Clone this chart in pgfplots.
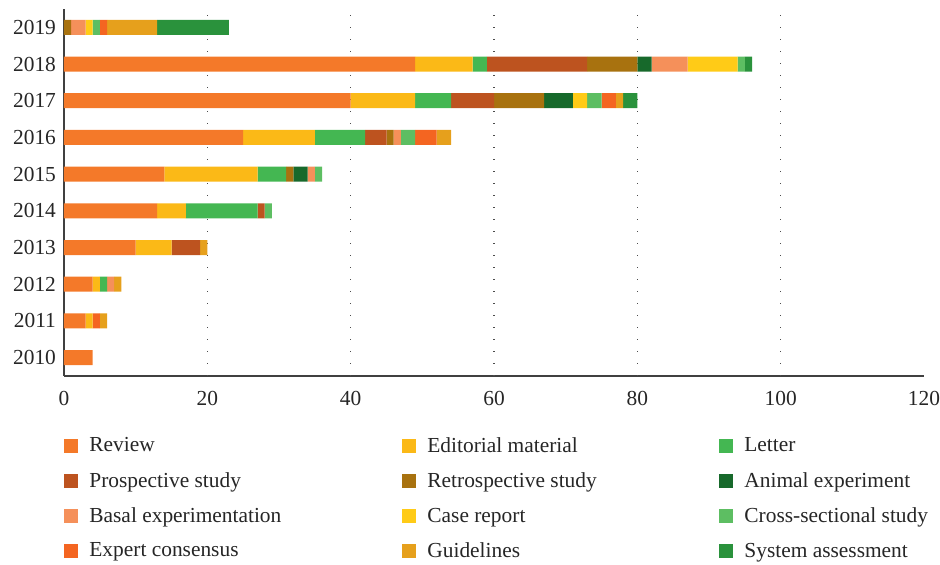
\documentclass[border=0pt]{standalone}
\usepackage{pgfplots}
\usepackage{pgfplotstable}
\pgfplotsset{compat=1.18}
\usepackage{fontspec}
\setmainfont{Liberation Serif}

\definecolor{cRev}{HTML}{F47929}
\definecolor{cEdi}{HTML}{FBB917}
\definecolor{cLet}{HTML}{44B752}
\definecolor{cPro}{HTML}{BD531F}
\definecolor{cRet}{HTML}{A8720F}
\definecolor{cAni}{HTML}{17692B}
\definecolor{cBas}{HTML}{F5905A}
\definecolor{cCas}{HTML}{FFCB17}
\definecolor{cCro}{HTML}{5DBE62}
\definecolor{cExp}{HTML}{F46521}
\definecolor{cGui}{HTML}{E6A01C}
\definecolor{cSys}{HTML}{2A923C}

% rows: 0 = 2010 ... 9 = 2019
\pgfplotstableread{
y  Rev Edi Let Pro Ret Ani Bas Cas Cro Exp Gui Sys
0  4   0   0   0   0   0   0   0   0   0   0   0
1  3   1   0   0   0   0   0   0   0   1   1   0
2  4   1   1   0   0   0   1   0   0   0   1   0
3  10  5   0   4   0   0   0   0   0   0   1   0
4  13  4   10  1   0   0   0   0   1   0   0   0
5  14  13  4   0   1   2   1   0   1   0   0   0
6  25  10  7   3   1   0   1   0   2   3   2   0
7  40  9   5   6   7   4   0   2   2   2   1   2
8  49  8   2   14  7   2   5   7   1   0   0   1
9  0   0   0   0   1   0   2   1   1   1   7   10
}\pubdata

\newcommand{\lbox}[2]{\makebox[#1][l]{#2}}

\begin{document}
\begin{tikzpicture}
\useasboundingbox (-32pt,-94.5pt) rectangle (438pt,188pt);
\begin{axis}[
    at={(0,0)}, anchor=south west,
    scale only axis,
    width=430pt, height=183.5pt,
    xbar stacked,
    bar width=7.5pt,
    xmin=0, xmax=120,
    ymin=-0.5, ymax=9.5,
    xtick={0,20,...,120},
    ytick={0,...,9},
    yticklabels={2010,2011,2012,2013,2014,2015,2016,2017,2018,2019},
    major tick length=0pt,
    extra x ticks={20,40,60,80,100},
    extra x tick labels={},
    extra x tick style={xmajorgrids=true},
    major grid style={draw=black!70, line width=0.6pt, dash pattern=on 0.6pt off 5.4pt},
    axis x line*=bottom, axis y line*=left,
    axis line style={-, draw=black!75, line width=0.6pt},
    tick label style={font=\fontsize{10.7}{12.5}\selectfont, text=black!85},
    /pgf/number format/assume math mode=true,
    xticklabel style={yshift=-4pt},
    yticklabel style={xshift=-0.5pt},
    area legend,
    legend image code/.code={\fill[#1] (0pt,-3.5pt) rectangle (7pt,3.5pt);},
    legend columns=3,
    legend cell align=left,
    legend style={at={(0,0)}, anchor=north west, yshift=-28.5pt, xshift=0pt,
        draw=none, inner sep=0pt, row sep=4.6pt,
        font=\fontsize{10.7}{12.5}\selectfont, text=black!85,
        /tikz/every odd column/.append style={column sep=3.5pt}},
]
\addplot[fill=cRev, draw=none] table[x=Rev, y=y] {\pubdata};
\addlegendentry{\lbox{154.5pt}{Review}}
\addplot[fill=cEdi, draw=none] table[x=Edi, y=y] {\pubdata};
\addlegendentry{\lbox{144pt}{Editorial material}}
\addplot[fill=cLet, draw=none] table[x=Let, y=y] {\pubdata};
\addlegendentry{Letter}
\addplot[fill=cPro, draw=none] table[x=Pro, y=y] {\pubdata};
\addlegendentry{\lbox{154.5pt}{Prospective study}}
\addplot[fill=cRet, draw=none] table[x=Ret, y=y] {\pubdata};
\addlegendentry{\lbox{144pt}{Retrospective study}}
\addplot[fill=cAni, draw=none] table[x=Ani, y=y] {\pubdata};
\addlegendentry{Animal experiment}
\addplot[fill=cBas, draw=none] table[x=Bas, y=y] {\pubdata};
\addlegendentry{\lbox{154.5pt}{Basal experimentation}}
\addplot[fill=cCas, draw=none] table[x=Cas, y=y] {\pubdata};
\addlegendentry{\lbox{144pt}{Case report}}
\addplot[fill=cCro, draw=none] table[x=Cro, y=y] {\pubdata};
\addlegendentry{Cross-sectional study}
\addplot[fill=cExp, draw=none] table[x=Exp, y=y] {\pubdata};
\addlegendentry{\lbox{154.5pt}{Expert consensus}}
\addplot[fill=cGui, draw=none] table[x=Gui, y=y] {\pubdata};
\addlegendentry{\lbox{144pt}{Guidelines}}
\addplot[fill=cSys, draw=none] table[x=Sys, y=y] {\pubdata};
\addlegendentry{System assessment}
\end{axis}
\end{tikzpicture}
\end{document}
